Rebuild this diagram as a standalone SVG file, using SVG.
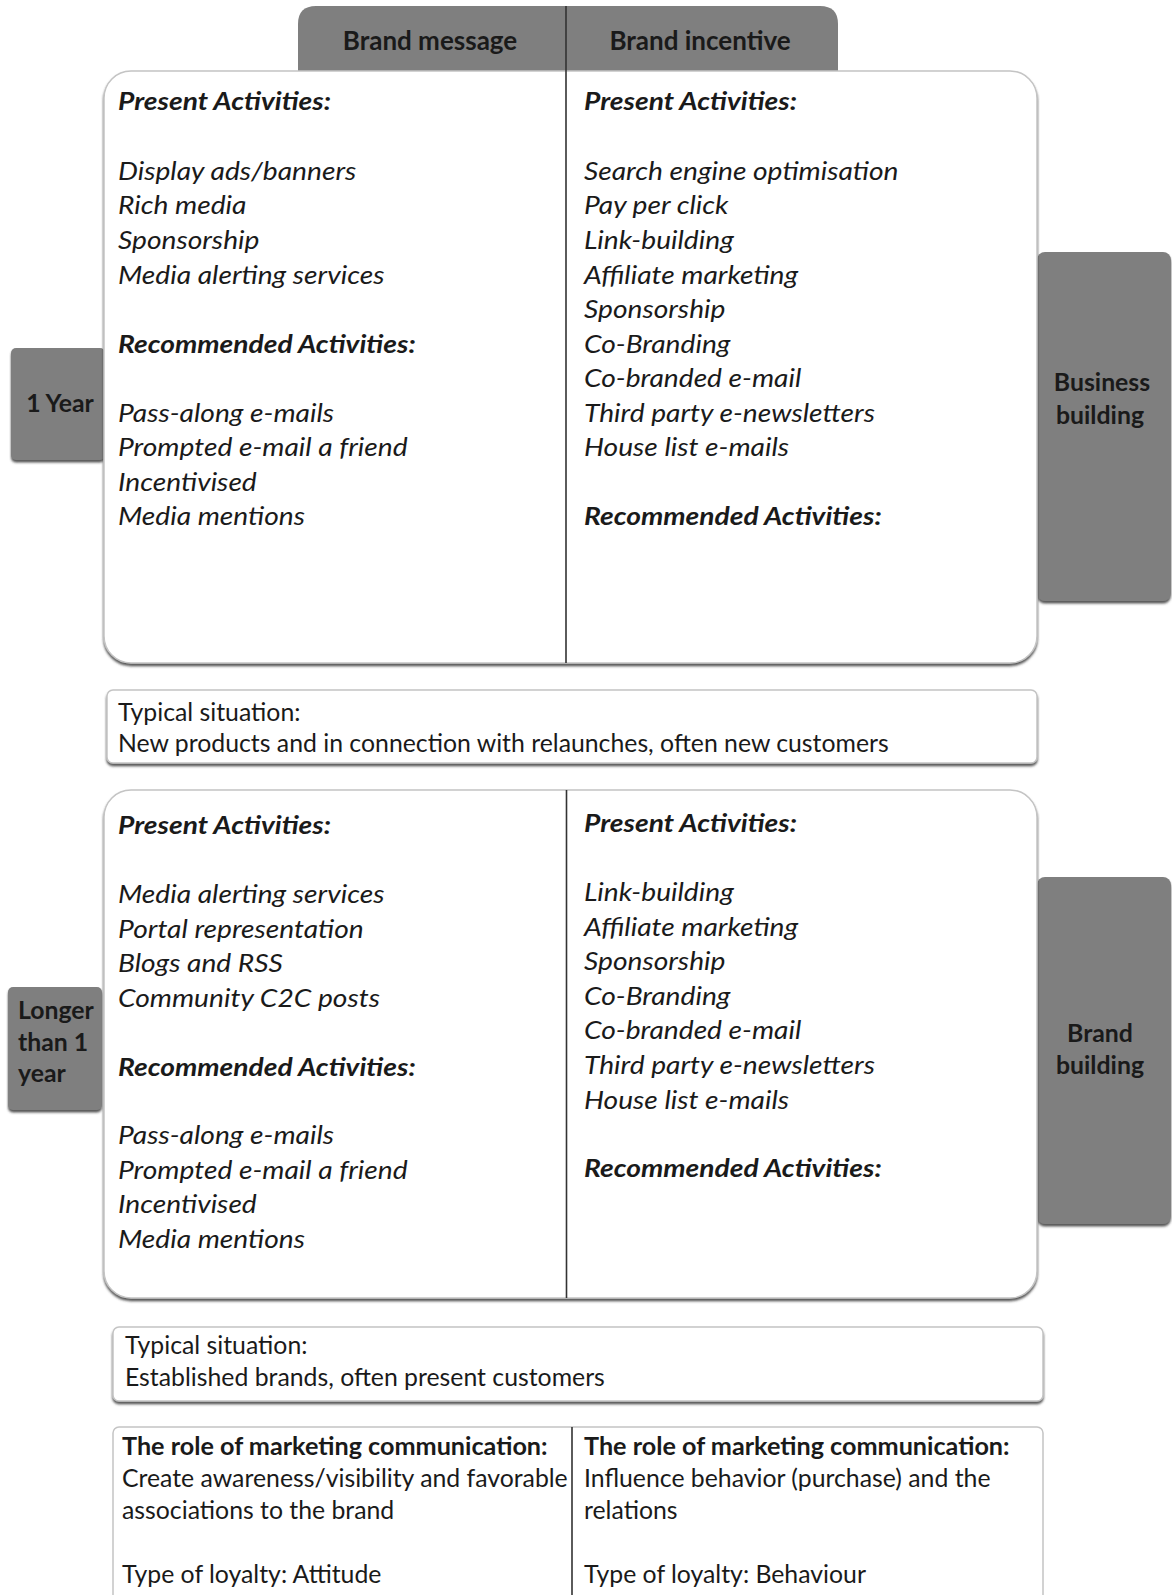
<svg xmlns="http://www.w3.org/2000/svg" width="1172" height="1595" viewBox="0 0 1172 1595">
  <defs>
    <filter id="shadow" x="-5%" y="-5%" width="110%" height="115%">
      <feDropShadow dx="0" dy="2.5" stdDeviation="1" flood-color="#3a3a3a" flood-opacity="0.85"/>
    </filter>
  </defs>
  <style>
    text { font-family: Lato, "Liberation Sans", sans-serif; font-size: 24.8px; fill: #1a1a1a; }
    .it { font-style: italic; font-size: 24.5px; }
    .hd { font-style: italic; font-weight: bold; font-size: 24.5px; }
    .b { font-weight: bold; }
    .role { font-weight: bold; font-size: 25.2px; }
    .lbl { font-weight: bold; text-anchor: middle; }
    .tab { font-weight: bold; text-anchor: middle; font-size: 26px; }
    .panel { fill: #ffffff; stroke: #c4c4c4; stroke-width: 1.5; }
    .tag { fill: #7f7f7f; }
    .div { stroke: #333333; stroke-width: 1.6; }
  </style>
  <rect width="1172" height="1595" fill="#ffffff"/>

  <!-- column header tab -->
  <g id="header-tab">
    <path class="tag" d="M298 71 V24 Q298 6 316 6 H820 Q838 6 838 24 V71 Z"/>
    <text class="tab" x="430" y="50">Brand message</text>
    <text class="tab" x="700" y="50">Brand incentive</text>
  </g>

  <!-- side labels -->
  <g id="label-1-year">
    <rect class="tag" x="11" y="348" width="94" height="112" rx="5" filter="url(#shadow)"/>
    <text class="lbl" x="60" y="412">1 Year</text>
  </g>
  <g id="label-longer">
    <rect class="tag" x="8" y="987" width="94" height="123" rx="5" filter="url(#shadow)"/>
    <text class="b" x="18" y="1019">Longer</text>
    <text class="b" x="18" y="1051">than 1</text>
    <text class="b" x="18" y="1082">year</text>
  </g>
  <g id="label-business-building">
    <rect class="tag" x="1037" y="252" width="134" height="349" rx="8" filter="url(#shadow)"/>
    <text class="lbl" x="1102" y="391">Business</text>
    <text class="lbl" x="1100" y="424">building</text>
  </g>
  <g id="label-brand-building">
    <rect class="tag" x="1037" y="877" width="134" height="347" rx="8" filter="url(#shadow)"/>
    <text class="lbl" x="1100" y="1042">Brand</text>
    <text class="lbl" x="1100" y="1074">building</text>
  </g>

  <!-- short-term activities panel -->
  <g id="panel-1-year">
    <rect class="panel" x="104" y="71" width="933" height="592" rx="27" filter="url(#shadow)"/>
    <line class="div" x1="566" y1="6" x2="566" y2="663"/>
    <!-- italic columns are widened horizontally to the printed set width -->
    <g transform="translate(118 1.5) scale(1.15 1)">
      <text class="hd" x="0" y="109">Present Activities:</text>
      <text class="it" x="0" y="178.5">Display ads/banners</text>
      <text class="it" x="0" y="213">Rich media</text>
      <text class="it" x="0" y="247.6">Sponsorship</text>
      <text class="it" x="0" y="282.1">Media alerting services</text>
      <text class="hd" x="0" y="351.2">Recommended Activities:</text>
      <text class="it" x="0" y="420.3">Pass-along e-mails</text>
      <text class="it" x="0" y="454.9">Prompted e-mail a friend</text>
      <text class="it" x="0" y="489.4">Incentivised</text>
      <text class="it" x="0" y="524">Media mentions</text>
    </g>
    <g transform="translate(584 1.5) scale(1.15 1)">
      <text class="hd" x="0" y="109">Present Activities:</text>
      <text class="it" x="0" y="178.5">Search engine optimisation</text>
      <text class="it" x="0" y="213">Pay per click</text>
      <text class="it" x="0" y="247.6">Link-building</text>
      <text class="it" x="0" y="282.1">Affiliate marketing</text>
      <text class="it" x="0" y="316.7">Sponsorship</text>
      <text class="it" x="0" y="351.2">Co-Branding</text>
      <text class="it" x="0" y="385.8">Co-branded e-mail</text>
      <text class="it" x="0" y="420.3">Third party e-newsletters</text>
      <text class="it" x="0" y="454.9">House list e-mails</text>
      <text class="hd" x="0" y="524">Recommended Activities:</text>
    </g>
  </g>

  <g id="situation-1-year">
    <rect class="panel" x="107" y="690" width="930" height="73" rx="6" filter="url(#shadow)"/>
    <text x="118" y="720.5">Typical situation:</text>
    <text x="118" y="751.5">New products and in connection with relaunches, often new customers</text>
  </g>

  <!-- long-term activities panel -->
  <g id="panel-longer">
    <rect class="panel" x="104" y="790" width="933" height="508" rx="27" filter="url(#shadow)"/>
    <line class="div" x1="566.5" y1="790" x2="566.5" y2="1298"/>
    <g transform="translate(118 1.5) scale(1.15 1)">
      <text class="hd" x="0" y="832.6">Present Activities:</text>
      <text class="it" x="0" y="901.8">Media alerting services</text>
      <text class="it" x="0" y="936.4">Portal representation</text>
      <text class="it" x="0" y="971">Blogs and RSS</text>
      <text class="it" x="0" y="1005.5">Community C2C posts</text>
      <text class="hd" x="0" y="1074.7">Recommended Activities:</text>
      <text class="it" x="0" y="1143">Pass-along e-mails</text>
      <text class="it" x="0" y="1177.5">Prompted e-mail a friend</text>
      <text class="it" x="0" y="1212">Incentivised</text>
      <text class="it" x="0" y="1246.7">Media mentions</text>
    </g>
    <g transform="translate(584 1.5) scale(1.15 1)">
      <text class="hd" x="0" y="830.6">Present Activities:</text>
      <text class="it" x="0" y="899.8">Link-building</text>
      <text class="it" x="0" y="934.4">Affiliate marketing</text>
      <text class="it" x="0" y="969">Sponsorship</text>
      <text class="it" x="0" y="1003.5">Co-Branding</text>
      <text class="it" x="0" y="1038">Co-branded e-mail</text>
      <text class="it" x="0" y="1072.7">Third party e-newsletters</text>
      <text class="it" x="0" y="1107.3">House list e-mails</text>
      <text class="hd" x="0" y="1175.5">Recommended Activities:</text>
    </g>
  </g>

  <g id="situation-longer">
    <rect class="panel" x="113" y="1327" width="930" height="74" rx="6" filter="url(#shadow)"/>
    <text x="125" y="1354">Typical situation:</text>
    <text x="125" y="1386">Established brands, often present customers</text>
  </g>

  <!-- role of marketing communication -->
  <g id="role-box">
    <rect class="panel" x="113" y="1427" width="930" height="190" rx="6"/>
    <line class="div" x1="572" y1="1427" x2="572" y2="1595" stroke="#555555"/>
    <text class="role" x="122" y="1455">The role of marketing communication:</text>
    <text x="122" y="1486.5">Create awareness/visibility and favorable</text>
    <text x="122" y="1519">associations to the brand</text>
    <text x="122" y="1583">Type of loyalty: Attitude</text>
    <text class="role" x="584" y="1455">The role of marketing communication:</text>
    <text x="584" y="1486.5">Influence behavior (purchase) and the</text>
    <text x="584" y="1519">relations</text>
    <text x="584" y="1583">Type of loyalty: Behaviour</text>
  </g>
</svg>
